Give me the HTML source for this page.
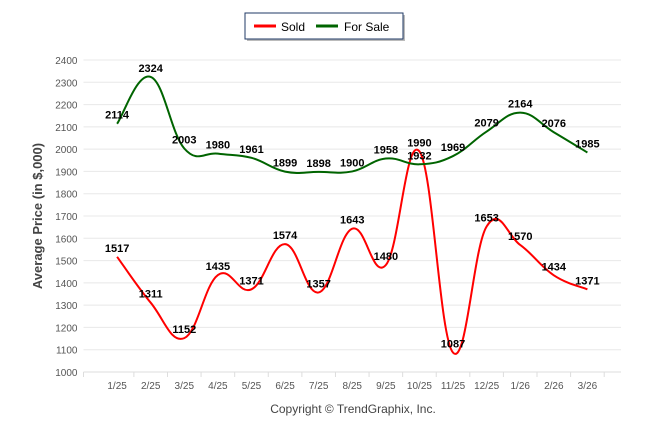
<!DOCTYPE html>
<html><head><meta charset="utf-8"><style>
body{margin:0;background:#fff;font-family:"Liberation Sans",sans-serif}
svg{display:block}
</style></head><body>
<svg id="chart" width="646" height="434" xmlns="http://www.w3.org/2000/svg">
<g>
<rect x="247" y="15" width="158" height="26" fill="#bbb"/>
<rect x="245" y="13" width="158" height="26" fill="#fff" stroke="#1f3864" stroke-width="1"/>
<line x1="254" y1="26" x2="276" y2="26" stroke="#ff0000" stroke-width="3"/>
<text x="281" y="31" font-size="12" fill="#000">Sold</text>
<line x1="316" y1="26" x2="338" y2="26" stroke="#006400" stroke-width="3"/>
<text x="344" y="31" font-size="12" fill="#000">For Sale</text>
</g>
<text transform="translate(42,216) rotate(-90)" text-anchor="middle" font-size="13" font-weight="bold" fill="#444">Average Price (in $,000)</text>
<text x="353" y="413" text-anchor="middle" font-size="12" fill="#444">Copyright © TrendGraphix, Inc.</text>
<g id="grid"></g><g id="axes"></g><g id="series"></g><g id="labels"></g>
</svg>
<script>
const categories=["1/25","2/25","3/25","4/25","5/25","6/25","7/25","8/25","9/25","10/25","11/25","12/25","1/26","2/26","3/26"];
const soldValues=[1517,1311,1152,1435,1371,1574,1357,1643,1480,1990,1087,1653,1570,1434,1371];
const forSaleValues=[2114,2324,2003,1980,1961,1899,1898,1900,1958,1932,1969,2079,2164,2076,1985];
const yTicks=[1000,1100,1200,1300,1400,1500,1600,1700,1800,1900,2000,2100,2200,2300,2400];
const NS="http://www.w3.org/2000/svg";
const x0=83.5,x1=621,yMin=1000,yMax=2400,py0=372,py1=60;
const band=(x1-x0)/(categories.length+1);
function xs(i){return x0+band*(i+1);}
function ys(v){return py0-(v-yMin)/(yMax-yMin)*(py0-py1);}
function mk(tag,attrs,parent){const e=document.createElementNS(NS,tag);for(const k in attrs)e.setAttribute(k,attrs[k]);document.getElementById(parent).appendChild(e);return e;}
yTicks.forEach(t=>{
 const l=mk('line',{x1:x0,x2:x1,y1:ys(t),y2:ys(t),stroke:t===1000?'#ddd':'#e8e8e8','stroke-width':1},'grid');
 
 
 const tx=mk('text',{x:x0-6,y:ys(t)+4,'text-anchor':'end','font-size':10,fill:'#555'},'axes');
 tx.textContent=t;
 
 
});
for(let i=0;i<=categories.length+1;i++){
 const xb=x0+band*i+(i>0&&i<=categories.length?band/2:0);
}
for(let i=0;i<=categories.length;i++){
 const xt=i===0?x0:xs(i-1)+band/2;
 const tk=mk('line',{x1:xt,x2:xt,y1:py0,y2:py0+5,stroke:'#ddd'},'axes');
 
 
}
categories.forEach((c,i)=>{
 const tx=mk('text',{x:xs(i),y:389,'text-anchor':'middle','font-size':10,fill:'#555'},'axes');
 tx.textContent=c;
 
 
});
function path(vals){
 const p=vals.map((v,i)=>[xs(i),ys(v)]);
 let d='M'+p[0][0]+','+p[0][1];
 for(let i=0;i<p.length-1;i++){
  const a=p[Math.max(i-1,0)],b=p[i],c=p[i+1],e=p[Math.min(i+2,p.length-1)];
  const t=0.5/3*2*0.5*1.2;
  const c1=[b[0]+(c[0]-a[0])*0.2,b[1]+(c[1]-a[1])*0.2];
  const c2=[c[0]-(e[0]-b[0])*0.2,c[1]-(e[1]-b[1])*0.2];
  d+=' C'+c1+' '+c2+' '+c;
 }
 return d;
}
const sp=mk('path',{d:path(soldValues),fill:'none',stroke:'#ff0000','stroke-width':2},'series');


const fp=mk('path',{d:path(forSaleValues),fill:'none',stroke:'#006400','stroke-width':2},'series');


function labels(vals,name){
 vals.forEach((v,i)=>{
  const t=mk('text',{x:xs(i),y:ys(v)-5,'text-anchor':'middle','font-size':11,'font-weight':'bold',fill:'#000'},'labels');
  t.textContent=v;
  
  
 });
}
labels(soldValues,'sold');labels(forSaleValues,'for-sale');
</script>
</body></html>
